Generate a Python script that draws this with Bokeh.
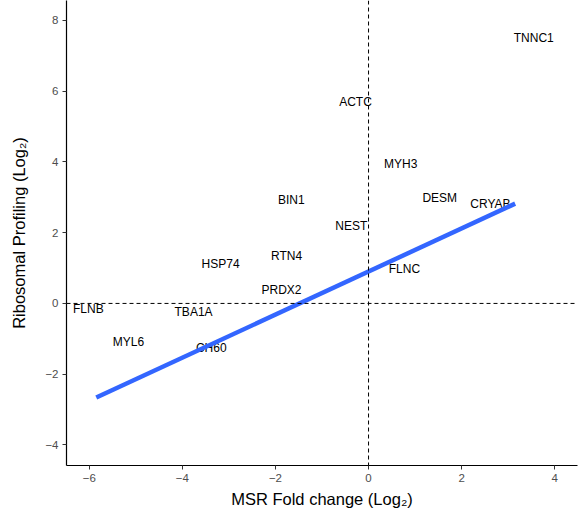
from bokeh.plotting import figure
from bokeh.models import ColumnDataSource, Span, FixedTicker, Range1d
from bokeh.core.properties import value
from bokeh.embed import file_html
from bokeh.resources import INLINE

# Gene labels and their positions (log2 fold changes)
genes = ["TNNC1", "ACTC", "MYH3", "DESM", "CRYAB", "BIN1", "NEST", "RTN4",
         "FLNC", "HSP74", "PRDX2", "FLNB", "TBA1A", "MYL6", "CH60"]
msr_fc = [3.55, -0.28, 0.69, 1.53, 2.62, -1.66, -0.37, -1.76,
          0.77, -3.18, -1.87, -6.02, -3.76, -5.16, -3.38]
ribo_fc = [7.51, 5.68, 3.95, 2.99, 2.82, 2.91, 2.18, 1.33,
           0.96, 1.10, 0.37, -0.17, -0.23, -1.10, -1.27]

# Linear fit line endpoints
fit_x = [-5.85, 3.15]
fit_y = [-2.66, 2.82]

# Reference lines
ref_x = 0
ref_y = 0

x_ticks = [-6, -4, -2, 0, 2, 4]
y_ticks = [-4, -2, 0, 2, 4, 6, 8]

FONT = "Liberation Sans"

p = figure(width=579, height=513, output_backend="svg", toolbar_location=None,
           x_range=Range1d(-6.49, 4.49), y_range=Range1d(-4.58, 8.56),
           min_border_left=66, min_border_right=2, min_border_top=0,
           min_border_bottom=48)
p.outline_line_color = None
p.xgrid.visible = False
p.ygrid.visible = False
p.background_fill_color = "white"
p.border_fill_color = "white"

p.add_layout(Span(location=ref_x, dimension="height", line_color="black",
                  line_width=1, line_dash="4 3"))
p.add_layout(Span(location=ref_y, dimension="width", line_color="black",
                  line_width=1, line_dash="4 3"))

src = ColumnDataSource(dict(x=msr_fc, y=ribo_fc, label=genes))
p.text(x="x", y="y", text="label", source=src, text_align="center",
       text_baseline="middle", text_font=value(FONT), text_font_size="12px",
       text_color="black")

p.line(fit_x, fit_y, line_color="#3366FF", line_width=4.5)

minus = "\u2212"
def fmt(v):
    return (minus + str(abs(v))) if v < 0 else str(v)

for ax, ticks, title in ((p.xaxis[0], x_ticks, "MSR Fold change (Log\u2082)"),
                         (p.yaxis[0], y_ticks, "Ribosomal Profiling (Log\u2082)")):
    ax.ticker = FixedTicker(ticks=ticks)
    ax.major_label_overrides = {t: fmt(t) for t in ticks}
    ax.minor_tick_line_color = None
    ax.major_tick_in = 0
    ax.major_tick_out = 4
    ax.major_tick_line_color = "#333333"
    ax.axis_line_color = "black"
    ax.axis_line_width = 1.2
    ax.major_label_text_font = FONT
    ax.major_label_text_font_size = "11.5px"
    ax.major_label_text_color = "#4D4D4D"
    ax.major_label_standoff = 4
    ax.axis_label = title
    ax.axis_label_text_font = FONT
    ax.axis_label_text_font_size = "16.5px"
    ax.axis_label_text_font_style = "normal"
    ax.axis_label_text_color = "black"

p.xaxis[0].axis_label_standoff = 5
p.yaxis[0].axis_label_standoff = 14

open("out.html", "w").write(file_html(p, INLINE))
